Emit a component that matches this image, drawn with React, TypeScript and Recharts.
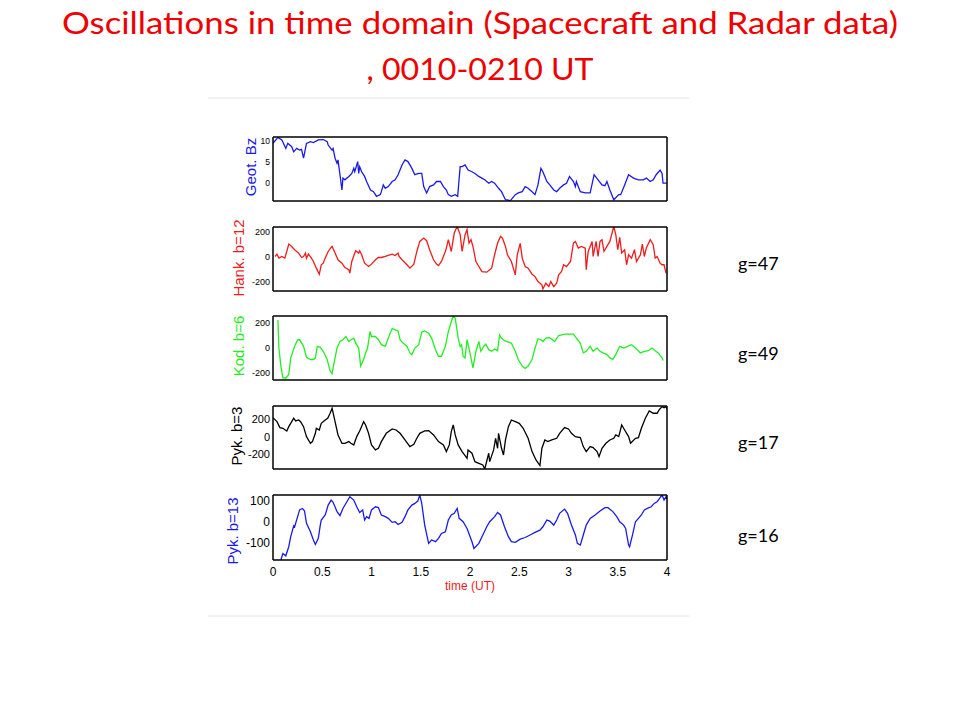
import React from "react";
import { LineChart, Line, XAxis, YAxis } from "recharts";

// ---------- data (time in UT, value) ----------
const xTicks = [0, 0.5, 1, 1.5, 2, 2.5, 3, 3.5, 4];

const bzSeries: [number, number][] = [
  [0.0, 9.4], [0.05, 10.8], [0.09, 10.2], [0.13, 8.2], [0.15, 9.4], [0.19, 8.6], [0.21, 7.4], [0.24, 8.2],
  [0.27, 7.8], [0.29, 8.0], [0.31, 5.9], [0.34, 9.4], [0.38, 9.8], [0.41, 9.6], [0.46, 10.2], [0.51, 10.3],
  [0.55, 9.8], [0.56, 9.0], [0.6, 7.8], [0.61, 8.2], [0.63, 5.9], [0.65, 4.7], [0.66, 5.5], [0.68, 2.0],
  [0.7, -1.6], [0.71, 1.2], [0.73, 0.8], [0.77, 1.6], [0.8, 2.3], [0.82, 3.5], [0.83, 2.7], [0.86, 5.1],
  [0.87, 2.3], [0.88, 3.9], [0.9, 2.7], [0.93, 1.6], [0.95, 0.4], [0.99, -1.6], [1.02, -2.0], [1.04, -2.7],
  [1.05, -3.1], [1.09, -2.7], [1.1, -2.0], [1.12, -0.4], [1.14, -1.2], [1.17, -0.8], [1.21, 0.4], [1.24, 0.8],
  [1.27, 2.0], [1.31, 4.3], [1.34, 5.5], [1.37, 5.1], [1.41, 3.5], [1.44, 2.0], [1.48, 2.3], [1.51, 2.3],
  [1.53, -0.8], [1.56, -2.3], [1.59, -0.8], [1.63, -0.4], [1.66, 0.4], [1.7, 0.4], [1.73, -0.8], [1.76, -1.6],
  [1.78, -2.7], [1.81, -3.1], [1.85, -2.7], [1.875, -3.1], [1.9, 3.9], [1.92, 3.9], [1.95, 4.3], [1.98, 3.1],
  [2.02, 2.7], [2.05, 2.3], [2.09, 1.6], [2.12, 1.2], [2.15, 0.8], [2.19, 0.0], [2.22, 0.4], [2.25, 0.0],
  [2.29, -1.2], [2.32, -2.0], [2.36, -3.9], [2.41, -4.1], [2.46, -2.7], [2.49, -2.3], [2.53, -2.0], [2.56, -0.8],
  [2.59, -1.2], [2.63, -2.0], [2.66, -2.7], [2.69, -0.4], [2.72, 3.5], [2.74, 2.7], [2.78, 0.4], [2.81, -0.4],
  [2.85, -1.6], [2.88, -2.0], [2.91, -1.2], [2.95, -0.4], [2.98, 0.0], [3.01, 1.6], [3.05, 0.4], [3.07, -0.8],
  [3.08, 0.4], [3.12, -2.0], [3.17, -2.3], [3.22, -2.3], [3.26, 2.0], [3.3, 0.8], [3.34, -0.4], [3.37, -0.6],
  [3.39, 0.4], [3.42, -1.6], [3.46, -3.9], [3.51, -2.7], [3.53, -2.7], [3.57, -0.4], [3.61, 2.0], [3.66, 1.2],
  [3.71, 0.8], [3.76, 0.8], [3.79, 1.2], [3.83, 0.4], [3.86, 0.8], [3.89, 2.0], [3.93, 3.1], [3.95, 2.3],
  [3.96, 0.0], [4.0, 0.0],
];

const hankSeries: [number, number][] = [
  [0.02, 5], [0.04, 24], [0.06, -8], [0.09, 5], [0.12, -8], [0.14, 45], [0.16, 104], [0.19, 85], [0.22, 59],
  [0.26, 32], [0.29, -3], [0.31, 5], [0.33, 32], [0.34, -8], [0.36, 24], [0.39, -8], [0.41, -35], [0.44, -88],
  [0.47, -136], [0.49, -61], [0.51, -48], [0.53, -8], [0.56, 45], [0.59, 77], [0.6, 85], [0.63, 32], [0.66, -21],
  [0.7, -48], [0.73, -83], [0.77, -101], [0.78, -128], [0.8, -35], [0.83, 32], [0.84, 51], [0.87, 32], [0.88, 51],
  [0.9, 19], [0.93, -48], [0.97, -75], [1.0, -56], [1.04, -21], [1.07, -3], [1.1, -3], [1.14, 5], [1.17, 13],
  [1.21, 24], [1.24, 13], [1.27, 32], [1.28, 5], [1.31, -21], [1.36, -61], [1.39, -88], [1.43, -56], [1.46, 45],
  [1.49, 125], [1.53, 152], [1.56, 131], [1.59, 59], [1.63, -21], [1.66, -56], [1.68, -67], [1.71, -35],
  [1.75, 45], [1.76, 72], [1.78, 139], [1.81, 45], [1.84, 192], [1.87, 245], [1.9, 179], [1.92, 45], [1.95, 179],
  [1.97, 219], [1.99, 112], [2.01, 139], [2.03, 85], [2.06, -35], [2.09, -75], [2.12, -115], [2.17, -120],
  [2.22, -88], [2.25, 19], [2.28, 112], [2.31, 165], [2.33, 152], [2.36, 85], [2.38, 19], [2.42, -35],
  [2.46, -141], [2.48, 19], [2.51, 109], [2.53, -8], [2.56, -75], [2.59, -88], [2.63, -136], [2.66, -155],
  [2.69, -195], [2.73, -221], [2.74, -253], [2.77, -208], [2.8, -235], [2.82, -195], [2.85, -235], [2.88, -208],
  [2.9, -141], [2.93, -115], [2.95, -61], [2.98, -75], [3.02, -35], [3.05, 112], [3.07, 125], [3.1, 72],
  [3.13, 85], [3.17, 72], [3.18, -101], [3.2, 45], [3.24, 125], [3.25, 5], [3.28, 125], [3.3, 5], [3.32, 125],
  [3.34, 139], [3.36, 45], [3.4, 99], [3.42, 125], [3.46, 245], [3.48, 179], [3.5, 59], [3.52, 157], [3.54, 32],
  [3.57, 59], [3.59, -61], [3.61, 19], [3.64, -8], [3.67, 59], [3.69, -35], [3.73, 19], [3.75, 104], [3.77, 5],
  [3.79, 72], [3.83, 139], [3.86, 99], [3.88, -8], [3.9, 5], [3.93, -48], [3.95, -61], [3.97, -61], [3.99, -128],
];

const kodSeries: [number, number][] = [
  [0.05, 223], [0.06, -3], [0.08, -148], [0.1, -241], [0.13, -246], [0.16, -215], [0.18, -82], [0.22, 11],
  [0.25, 64], [0.27, 64], [0.31, 11], [0.34, -77], [0.38, -95], [0.41, -95], [0.43, -82], [0.45, 11], [0.48, 3],
  [0.51, -29], [0.55, -95], [0.58, -188], [0.6, -209], [0.61, -162], [0.65, -3], [0.68, 50], [0.71, 64],
  [0.74, 90], [0.77, 50], [0.79, 64], [0.82, 77], [0.84, 37], [0.87, -3], [0.89, -148], [0.92, -95], [0.94, -42],
  [0.96, -3], [0.985, 130], [1.0, 90], [1.04, 90], [1.07, 64], [1.1, 24], [1.14, 11], [1.17, 77], [1.21, 156],
  [1.24, 143], [1.27, 135], [1.29, 64], [1.32, 37], [1.36, 11], [1.39, -42], [1.41, -56], [1.44, -3], [1.48, 24],
  [1.51, 125], [1.54, 135], [1.58, 117], [1.61, 77], [1.65, -16], [1.68, -69], [1.71, -69], [1.75, 11],
  [1.78, 130], [1.81, 209], [1.83, 257], [1.85, 236], [1.88, 77], [1.9, 11], [1.915, 24], [1.93, -69],
  [1.95, -82], [1.97, 64], [2.0, -42], [2.03, -162], [2.06, -29], [2.09, 50], [2.11, -29], [2.14, 11], [2.16, 29],
  [2.19, -16], [2.22, -29], [2.25, -11], [2.28, -24], [2.3, 103], [2.32, 77], [2.35, 56], [2.39, 45], [2.42, 37],
  [2.46, -29], [2.49, -95], [2.53, -148], [2.56, -167], [2.59, -148], [2.63, -95], [2.66, -3], [2.69, 72],
  [2.72, 64], [2.74, 50], [2.77, 77], [2.8, 82], [2.83, 69], [2.86, 50], [2.9, 98], [2.93, 103], [2.97, 109],
  [3.02, 109], [3.05, 109], [3.08, 77], [3.12, 37], [3.15, -42], [3.18, -29], [3.22, 11], [3.25, -29], [3.29, -3],
  [3.32, -29], [3.35, -42], [3.39, -56], [3.42, -82], [3.45, -95], [3.48, -56], [3.52, 11], [3.56, -3], [3.6, 11],
  [3.64, 24], [3.68, -3], [3.73, -42], [3.77, -29], [3.81, -24], [3.85, -3], [3.88, -24], [3.91, -42], [3.95, -82],
  [3.96, -103],
];

const pyk3Series: [number, number][] = [
  [0.0, 217], [0.04, 171], [0.07, 103], [0.1, 95], [0.14, 65], [0.16, 114], [0.19, 171], [0.21, 210], [0.23, 179],
  [0.26, 190], [0.28, 171], [0.31, 114], [0.34, 0], [0.38, -76], [0.4, -57], [0.43, 38], [0.44, 95], [0.47, 76],
  [0.49, 152], [0.53, 190], [0.555, 210], [0.58, 267], [0.6, 324], [0.63, 171], [0.66, 19], [0.7, -76], [0.73, -76],
  [0.77, -57], [0.79, -76], [0.82, -95], [0.85, 0], [0.88, 65], [0.92, 171], [0.94, 133], [0.97, 38], [1.0, -95],
  [1.04, -152], [1.07, -133], [1.1, -57], [1.15, 38], [1.21, 88], [1.25, 76], [1.29, 38], [1.34, -38], [1.39, -114],
  [1.43, -88], [1.46, -19], [1.49, 38], [1.54, 65], [1.58, 69], [1.63, 19], [1.68, -57], [1.73, -95], [1.76, -171],
  [1.79, -95], [1.81, 57], [1.83, 133], [1.85, 19], [1.88, -95], [1.92, -171], [1.97, -248], [1.98, -152],
  [2.02, -190], [2.05, -286], [2.09, -305], [2.13, -324], [2.15, -370], [2.19, -190], [2.2, -286], [2.24, -152],
  [2.26, -19], [2.28, -133], [2.29, 38], [2.32, -133], [2.34, -210], [2.36, -38], [2.39, 114], [2.42, 190],
  [2.46, 171], [2.5, 152], [2.54, 95], [2.59, -19], [2.63, -171], [2.67, -267], [2.71, -331], [2.73, -133],
  [2.76, -38], [2.79, -57], [2.83, -38], [2.88, -19], [2.91, 38], [2.96, 103], [3.0, 88], [3.03, 38], [3.07, 0],
  [3.12, -11], [3.15, -114], [3.18, -171], [3.22, -114], [3.25, -126], [3.29, -171], [3.31, -229], [3.34, -133],
  [3.38, -76], [3.42, -38], [3.46, -19], [3.48, 19], [3.51, 0], [3.54, 133], [3.57, 76], [3.61, 0], [3.63, -76],
  [3.68, -19], [3.71, -11], [3.74, 95], [3.78, 210], [3.82, 293], [3.86, 267], [3.9, 267], [3.92, 305],
  [3.95, 343], [3.97, 331], [3.99, 343], [4.0, 316],
];

const pyk13Series: [number, number][] = [
  [0.08, -182], [0.1, -151], [0.13, -162], [0.16, -119], [0.18, -71], [0.21, -19], [0.22, -24], [0.25, 24],
  [0.27, 56], [0.3, 63], [0.32, 51], [0.34, -8], [0.38, -48], [0.41, -87], [0.43, -108], [0.46, -79], [0.48, -16],
  [0.49, 8], [0.53, 32], [0.56, 79], [0.59, 103], [0.61, 92], [0.65, 48], [0.68, 29], [0.71, 63], [0.75, 95],
  [0.78, 119], [0.82, 103], [0.85, 71], [0.88, 44], [0.91, 56], [0.93, 8], [0.95, 24], [0.975, 16], [1.0, 56],
  [1.04, 71], [1.07, 67], [1.1, 32], [1.14, 24], [1.17, 16], [1.21, -3], [1.24, 0], [1.27, -13], [1.31, -3],
  [1.34, 24], [1.37, 56], [1.41, 79], [1.44, 87], [1.47, 98], [1.49, 127], [1.51, 87], [1.54, -16], [1.58, -103],
  [1.61, -87], [1.65, -95], [1.68, -79], [1.71, -56], [1.75, -48], [1.78, 8], [1.81, 32], [1.84, 40], [1.87, 63],
  [1.89, 16], [1.93, 0], [1.97, -32], [2.02, -95], [2.04, -127], [2.09, -103], [2.13, -63], [2.17, -24], [2.2, 0],
  [2.25, 24], [2.28, 44], [2.31, 32], [2.35, -24], [2.39, -71], [2.42, -95], [2.46, -98], [2.51, -83], [2.56, -75],
  [2.61, -63], [2.66, -51], [2.71, -40], [2.74, -24], [2.78, 8], [2.81, 3], [2.85, -16], [2.88, 8], [2.91, 40],
  [2.96, 60], [2.99, 40], [3.03, -16], [3.07, -63], [3.09, -103], [3.12, -111], [3.15, -63], [3.18, -16],
  [3.22, 16], [3.27, 32], [3.32, 51], [3.37, 67], [3.4, 67], [3.45, 48], [3.49, 24], [3.52, 0], [3.56, -16],
  [3.58, -32], [3.61, -111], [3.62, -119], [3.65, -63], [3.68, 0], [3.71, 16], [3.74, 32], [3.77, 56], [3.8, 63],
  [3.84, 71], [3.87, 87], [3.9, 95], [3.93, 114], [3.95, 127], [3.97, 103], [3.99, 119], [4.0, 108],
];

const bzTicks = [0, 5, 10];
const hankTicks = [-200, 0, 200];
const kodTicks = [-200, 0, 200];
const pyk3Ticks = [-200, 0, 200];
const pyk13Ticks = [-100, 0, 100];

const gLabels = ["g=47", "g=49", "g=17", "g=16"];

// ---------- layout ----------
type PanelCfg = {
  name: string;
  color: string;
  data: [number, number][];
  ticks: number[];
  domain: [number, number];
  top: number;
  height: number;
  tickFont: number;
  labelX: number;
  labelY: number;
};

const panels: PanelCfg[] = [
  { name: "Geot. Bz", color: "#1a1ae6", data: bzSeries, ticks: bzTicks, domain: [-4.2, 10.9], top: 137, height: 64, tickFont: 8.5, labelX: 250, labelY: 167 },
  { name: "Hank. b=12", color: "#ee1c1c", data: hankSeries, ticks: hankTicks, domain: [-270, 240], top: 227, height: 64, tickFont: 9, labelX: 238, labelY: 258 },
  { name: "Kod. b=6", color: "#22ee22", data: kodSeries, ticks: kodTicks, domain: [-260, 255], top: 316, height: 64, tickFont: 9, labelX: 238, labelY: 346 },
  { name: "Pyk. b=3", color: "#000000", data: pyk3Series, ticks: pyk3Ticks, domain: [-370, 350], top: 406, height: 63, tickFont: 11, labelX: 236, labelY: 436 },
  { name: "Pyk. b=13", color: "#1a1ae6", data: pyk13Series, ticks: pyk13Ticks, domain: [-182, 127], top: 495, height: 65, tickFont: 12, labelX: 232, labelY: 531 },
];

const gLabelY = [270, 360, 449, 542];

const AXIS_FONT = "'Liberation Sans', Arial, sans-serif";
const SLIDE_FONT = "Lato, 'Open Sans', sans-serif";

function Panel({ p, last }: { p: PanelCfg; last: boolean }) {
  const data = p.data.map(([t, v]) => ({ t, v }));
  const mTop = 10;
  const xAxisH = last ? 30 : 0;
  const mBottom = 5;
  const frame = { stroke: "#000", strokeWidth: 1.5 };
  const tl = { stroke: "#000", strokeWidth: 1 };
  return (
    <div style={{ position: "absolute", left: 200, top: p.top - mTop }}>
      <LineChart
        width={480}
        height={p.height + mTop + xAxisH + mBottom}
        data={data}
        margin={{ top: mTop, right: 13, bottom: mBottom, left: 0 }}
      >
        {last && (
          <XAxis
            xAxisId="lab"
            dataKey="t"
            type="number"
            orientation="bottom"
            domain={[0, 4]}
            ticks={xTicks}
            interval={0}
            allowDataOverflow
            height={xAxisH}
            tickSize={0}
            tickMargin={7}
            axisLine={false}
            tickLine={false}
            tick={{ fontSize: 12, fill: "#000", fontFamily: AXIS_FONT }}
          />
        )}
        <XAxis
          xAxisId="bm"
          dataKey="t"
          type="number"
          orientation="bottom"
          mirror
          domain={[0, 4]}
          ticks={xTicks}
          interval={0}
          allowDataOverflow
          height={20}
          tickSize={4}
          axisLine={frame}
          tickLine={tl}
          tick={false}
        />
        <XAxis
          xAxisId="tm"
          dataKey="t"
          type="number"
          orientation="top"
          mirror
          domain={[0, 4]}
          ticks={xTicks}
          interval={0}
          allowDataOverflow
          height={20}
          tickSize={4}
          axisLine={frame}
          tickLine={tl}
          tick={false}
        />
        <YAxis
          yAxisId="l"
          type="number"
          orientation="left"
          width={73}
          domain={p.domain}
          ticks={p.ticks}
          interval={0}
          allowDataOverflow
          tickSize={0}
          tickMargin={3}
          axisLine={false}
          tickLine={false}
          tick={{ fontSize: p.tickFont, fill: "#000", fontFamily: AXIS_FONT }}
        />
        <YAxis
          yAxisId="lm"
          type="number"
          orientation="left"
          mirror
          width={20}
          domain={p.domain}
          ticks={p.ticks}
          interval={0}
          allowDataOverflow
          tickSize={4}
          axisLine={frame}
          tickLine={tl}
          tick={false}
        />
        <YAxis
          yAxisId="rm"
          type="number"
          orientation="right"
          mirror
          width={20}
          domain={p.domain}
          ticks={p.ticks}
          interval={0}
          allowDataOverflow
          tickSize={4}
          axisLine={frame}
          tickLine={tl}
          tick={false}
        />
        <Line
          xAxisId="bm"
          yAxisId="l"
          type="linear"
          dataKey="v"
          stroke={p.color}
          strokeWidth={1.3}
          dot={false}
          isAnimationActive={false}
        />
      </LineChart>
    </div>
  );
}

export default function App() {
  return (
    <div style={{ position: "absolute", left: 0, top: 0, width: 960, height: 720, background: "#fff", overflow: "hidden" }}>
      <svg width={960} height={720} style={{ position: "absolute", left: 0, top: 0 }}>
        <line x1={208} x2={689} y1={98} y2={98} stroke="#e4e4e4" strokeWidth={1} />
        <line x1={208} x2={689} y1={616} y2={616} stroke="#e4e4e4" strokeWidth={1} />
        <text x={480} y={34} textAnchor="middle" fontFamily={SLIDE_FONT} fontSize={31} fill="#ee0000" textLength={836} lengthAdjust="spacingAndGlyphs">
          Oscillations in time domain (Spacecraft and Radar data)
        </text>
        <text x={480} y={80} textAnchor="middle" fontFamily={SLIDE_FONT} fontSize={31} fill="#ee0000" textLength={227} lengthAdjust="spacingAndGlyphs">
          , 0010-0210 UT
        </text>
        {panels.map((p) => (
          <text
            key={p.name}
            x={p.labelX}
            y={p.labelY}
            transform={`rotate(-90 ${p.labelX} ${p.labelY})`}
            textAnchor="middle"
            dominantBaseline="central"
            fontFamily={AXIS_FONT}
            fontSize={15}
            fill={p.color}
          >
            {p.name}
          </text>
        ))}
        <text x={470} y={590} textAnchor="middle" fontFamily={AXIS_FONT} fontSize={12} fill="#ee1c1c">
          time (UT)
        </text>
        {gLabels.map((g, i) => (
          <text key={g} x={738} y={gLabelY[i]} fontFamily={SLIDE_FONT} fontSize={18} fill="#000">
            {g}
          </text>
        ))}
      </svg>
      {panels.map((p, i) => (
        <Panel key={p.name} p={p} last={i === panels.length - 1} />
      ))}
    </div>
  );
}
